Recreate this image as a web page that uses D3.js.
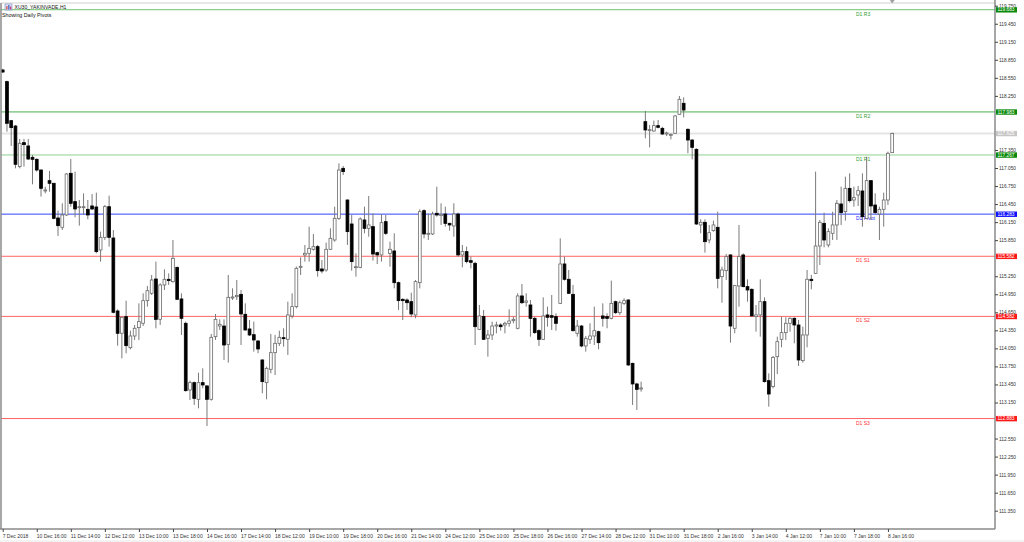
<!DOCTYPE html>
<html><head><meta charset="utf-8">
<script src="https://cdn.jsdelivr.net/npm/d3@7"></script>
<style>
html,body{margin:0;padding:0;background:#fff;}
svg{display:block;font-family:"Liberation Sans",Arial,sans-serif;}
</style></head>
<body><svg id="chart" width="1024" height="542"></svg>
<script>
const title = "XU30_YAKINVADE,H1";
const subtitle = "Showing Daily Pivots";

const opens = [118.681,118.487,117.838,117.749,117.073,117.472,117.417,117.228,117.195,117.017,
116.674,116.840,116.796,116.219,116.064,116.269,116.962,116.491,116.402,116.402,
116.363,116.419,116.402,115.687,115.897,116.407,115.886,114.672,114.301,114.578,
114.062,114.256,114.395,114.467,114.844,114.966,115.204,114.533,115.105,115.199,
115.160,115.398,114.872,114.467,113.358,113.480,113.203,113.480,113.425,113.203,
114.245,114.422,114.422,114.117,114.888,114.910,114.949,114.617,114.373,114.278,
114.173,113.857,113.480,113.702,113.979,114.134,114.228,114.201,114.589,114.744,
115.398,115.604,115.631,115.698,115.742,115.371,115.354,115.698,115.853,116.213,
117.045,116.518,116.119,115.398,115.398,116.186,116.047,116.075,115.642,115.604,
116.158,115.631,115.670,115.143,114.866,114.855,114.827,114.606,115.143,116.341,
115.947,115.953,116.297,116.258,116.285,116.130,116.086,116.285,115.604,115.659,
115.509,115.465,114.367,114.578,114.217,114.273,114.422,114.439,114.439,114.467,
114.511,114.384,114.922,114.816,114.772,114.550,114.345,114.201,114.606,114.594,
114.578,114.799,115.454,115.199,114.949,114.301,114.422,114.090,114.201,114.256,
114.328,114.589,114.578,114.550,114.827,114.644,114.799,114.855,113.801,113.458,
113.375,117.821,117.677,117.666,117.755,117.710,117.616,117.594,117.627,117.943,
118.126,117.694,117.516,117.361,116.103,116.147,115.853,116.008,116.064,115.243,
115.343,115.604,114.384,115.088,115.604,115.077,115.032,114.578,114.606,114.827,
113.513,113.414,113.912,114.201,114.312,114.467,114.550,114.439,113.846,114.273,
115.199,115.298,115.753,116.130,115.770,115.964,116.103,116.452,116.324,116.712,
116.518,116.601,116.668,116.213,116.840,116.435,116.285,116.363,116.518,117.306];

const highs = [118.700,118.503,117.849,117.766,117.533,117.533,117.533,117.267,117.211,117.028,
116.740,117.001,116.800,116.341,116.463,116.962,117.200,116.990,116.518,116.629,
116.518,116.618,116.640,115.992,116.435,116.590,116.019,114.700,114.578,114.844,
114.345,114.439,114.799,114.966,115.088,115.271,115.493,115.132,115.365,115.298,
115.853,115.409,114.966,114.495,113.513,113.497,113.646,113.718,113.441,114.290,
114.622,114.533,114.533,115.271,115.049,115.188,115.021,114.799,114.522,114.495,
114.190,113.868,113.746,114.290,114.273,114.345,114.384,114.827,114.966,115.409,
115.565,115.770,116.075,115.953,115.770,115.520,115.809,116.047,116.407,117.128,
117.084,116.529,116.269,115.631,116.230,116.407,116.585,116.297,115.659,116.285,
116.269,115.825,115.964,115.160,114.883,114.883,114.977,115.188,116.363,116.363,
116.297,116.324,116.740,116.463,116.407,116.141,116.463,116.308,115.770,115.742,
115.576,115.493,114.772,114.689,114.356,114.495,114.495,114.467,114.495,114.700,
114.578,114.966,115.121,114.966,114.855,114.578,114.367,114.899,114.744,114.938,
114.633,115.881,115.576,115.354,115.105,114.522,114.439,114.256,114.467,114.744,
114.345,114.799,114.633,115.177,114.844,114.844,114.883,114.866,113.813,113.480,
113.497,117.999,117.766,117.838,117.849,117.738,117.655,117.627,117.932,118.248,
118.226,117.710,117.527,117.378,116.197,116.197,116.103,116.175,116.324,115.409,
115.620,115.615,115.105,116.103,115.631,115.199,115.049,114.772,115.199,114.899,
113.635,113.924,114.245,114.578,114.567,114.567,114.567,114.522,114.411,115.354,
115.271,116.990,116.186,116.308,116.047,116.324,116.518,116.740,116.906,116.962,
116.740,116.751,116.962,117.239,116.851,116.629,116.407,116.640,117.322,117.638];

const lows = [118.630,117.655,117.417,117.045,117.045,117.073,117.184,116.779,116.990,116.574,
116.629,116.657,116.197,115.920,116.019,116.252,116.407,116.230,116.091,116.269,
116.197,116.352,115.631,115.493,115.853,115.742,114.633,114.095,113.885,113.968,
114.034,114.190,114.190,114.422,114.744,114.938,114.384,114.439,115.021,115.105,
115.143,114.855,114.273,113.330,113.192,113.109,113.053,113.386,112.759,113.181,
114.190,114.356,113.857,113.813,114.855,114.855,114.106,114.345,114.256,113.996,
113.968,113.303,113.203,113.635,113.607,114.090,114.079,113.940,114.550,114.716,
115.271,115.493,115.493,115.676,115.243,115.298,115.326,115.687,115.825,116.186,
116.934,115.770,115.343,115.243,115.382,115.964,115.908,115.509,115.454,115.493,
115.936,115.409,115.049,114.689,114.522,114.689,114.567,114.550,115.049,115.881,
115.853,115.936,116.241,116.103,116.075,116.008,115.908,115.576,115.398,115.465,
115.382,114.106,114.356,114.190,113.912,114.190,114.301,114.345,114.301,114.411,
114.467,114.367,114.788,114.744,114.245,114.290,114.090,114.190,114.411,114.356,
114.345,114.788,115.177,114.955,114.328,114.245,114.068,113.996,114.123,114.106,
114.034,114.411,114.384,114.533,114.622,114.606,114.772,113.757,113.109,113.025,
113.330,117.544,117.394,117.655,117.710,117.599,117.583,117.527,117.616,117.932,
117.893,117.295,117.195,116.103,115.964,115.642,115.798,115.992,115.049,114.810,
115.188,114.145,114.301,114.744,115.066,114.827,114.578,114.328,114.245,113.480,
113.081,113.386,113.624,114.068,114.190,114.328,114.134,113.757,113.813,114.068,
115.032,115.287,115.437,115.731,115.731,115.853,115.853,116.103,116.175,116.474,
116.407,116.419,116.075,116.197,116.186,116.285,115.853,116.075,116.435,117.306];

const closes = [118.647,117.794,117.722,117.112,117.461,117.439,117.200,117.195,117.017,116.712,
116.685,116.796,116.213,116.091,116.269,116.951,116.463,116.369,116.407,116.407,
116.269,116.369,115.659,115.897,116.407,115.897,114.650,114.301,114.567,114.095,
114.256,114.384,114.495,114.844,115.010,115.188,114.533,115.105,115.199,115.177,
115.548,114.866,114.550,113.347,113.480,113.219,113.480,113.441,113.203,114.234,
114.533,114.450,114.106,114.899,114.905,114.932,114.622,114.356,114.273,114.190,
114.040,113.497,113.718,113.979,114.134,114.234,114.212,114.606,114.744,115.382,
115.415,115.631,115.714,115.742,115.343,115.337,115.698,115.881,116.213,117.017,
116.990,115.992,115.493,115.409,116.202,116.047,116.103,115.620,115.604,116.141,
115.964,115.698,115.143,114.844,114.844,114.810,114.622,115.160,116.324,115.953,
115.964,116.285,116.269,116.280,116.130,116.103,116.285,115.604,115.659,115.493,
115.482,114.411,114.589,114.201,114.273,114.422,114.439,114.411,114.467,114.506,
114.533,114.922,114.810,114.838,114.550,114.312,114.201,114.589,114.567,114.567,
114.467,115.454,115.199,114.966,114.345,114.422,114.090,114.217,114.256,114.345,
114.145,114.550,114.550,114.799,114.644,114.810,114.844,113.774,113.458,113.369,
113.391,117.683,117.688,117.755,117.727,117.616,117.633,117.610,117.916,118.193,
118.015,117.516,117.394,116.119,116.147,115.825,115.975,116.103,115.215,115.354,
115.576,114.422,115.094,115.576,115.077,115.021,114.589,114.606,114.827,113.497,
113.291,113.901,114.162,114.312,114.467,114.550,114.439,113.857,114.273,115.199,
115.177,115.753,116.147,115.853,115.992,116.103,116.463,116.308,116.712,116.507,
116.557,116.674,116.241,116.840,116.419,116.308,116.363,116.518,117.295,117.625];

const xLabels = ["7 Dec 2018","10 Dec 16:00","11 Dec 14:00","12 Dec 12:00","13 Dec 10:00","13 Dec 18:00",
"14 Dec 16:00","17 Dec 14:00","18 Dec 12:00","19 Dec 10:00","19 Dec 18:00","20 Dec 16:00","21 Dec 14:00",
"24 Dec 12:00","25 Dec 10:00","25 Dec 18:00","26 Dec 16:00","27 Dec 14:00","28 Dec 12:00","31 Dec 10:00",
"31 Dec 18:00","2 Jan 16:00","3 Jan 14:00","4 Jan 12:00","7 Jan 10:00","7 Jan 18:00","8 Jan 16:00"];
const xLabelEvery = 8;

const yTicks = [119.75,119.45,119.15,118.85,118.55,118.25,117.35,117.05,116.75,116.45,116.15,115.85,
115.25,114.95,114.65,114.35,114.05,113.75,113.45,113.15,112.55,112.25,111.95,111.65,111.35];

const levelNames = ["D1 R3","D1 R2","D1 R1","D1 Pivot","D1 S1","D1 S2","D1 S3"];
const levelValues = [119.683,117.983,117.267,116.283,115.582,114.582,112.883];
const levelKinds = ["R","R","R","P","S","S","S"];
const lastPrice = 117.625;

// ---------- drawing ----------
const svg = d3.select("#chart");
const W = 1024, H = 542;
const plotRight = 995, plotBottom = 529, plotTop = 3, plotLeft = 1;
const n = closes.length;

const x = d3.scaleLinear().domain([0, n - 1]).range([2.7, 2.7 + 4.256 * (n - 1)]);
const y = d3.scaleLinear().domain([111.35, 119.75]).range([510.7, 5.7]);

svg.append("rect").attr("width", W).attr("height", H).attr("fill", "#fff");

const lineColorAlt = ["#6cc26c", "#4caf50", "#8fd18f", "#3344ff", "#ff6464", "#ff6464", "#ff6464"];
const textColor = {R: "#2e9e2e", P: "#1a1aff", S: "#ff3030"};
const boxColor = {R: "#0a8a0a", P: "#1010ff", S: "#ff1a1a"};

const plot = svg.append("g");

// last price line
plot.append("line").attr("x1", plotLeft).attr("x2", plotRight)
  .attr("y1", y(lastPrice)).attr("y2", y(lastPrice))
  .attr("stroke", "#e4e4e4").attr("stroke-width", 2);

// pivot lines
plot.selectAll("line.lvl").data(levelValues).join("line").attr("class", "lvl")
  .attr("x1", plotLeft).attr("x2", plotRight)
  .attr("y1", d => y(d)).attr("y2", d => y(d))
  .attr("stroke", (d, i) => lineColorAlt[i]).attr("stroke-width", 1);

plot.selectAll("text.lvlname").data(levelValues).join("text").attr("class", "lvlname")
  .attr("x", 856).attr("y", d => y(d) + 6)
  .attr("font-size", 5).attr("fill", (d, i) => textColor[levelKinds[i]])
  .text((d, i) => levelNames[i]);

// candles
const candles = plot.append("g");
const idx = d3.range(n);
candles.selectAll("line.wick").data(idx).join("line").attr("class", "wick")
  .attr("x1", i => x(i)).attr("x2", i => x(i))
  .attr("y1", i => y(highs[i])).attr("y2", i => y(lows[i]))
  .attr("stroke", "#7a7a7a").attr("stroke-width", 1);

const bw = 2.8;
candles.selectAll("rect.body").data(idx).join("rect").attr("class", "body")
  .attr("x", i => x(i) - bw / 2)
  .attr("y", i => y(Math.max(opens[i], closes[i])))
  .attr("width", bw)
  .attr("height", i => Math.max(1, Math.abs(y(opens[i]) - y(closes[i]))))
  .attr("fill", i => closes[i] >= opens[i] ? "#fff" : "#000")
  .attr("stroke", i => closes[i] >= opens[i] ? "#6a6a6a" : "#000")
  .attr("stroke-width", 0.8);

// frame
svg.append("line").attr("x1", plotLeft).attr("x2", plotRight).attr("y1", plotTop).attr("y2", plotTop)
  .attr("stroke", "#d0d0d0").attr("stroke-width", 1);
svg.append("line").attr("x1", 1).attr("x2", 1).attr("y1", plotTop).attr("y2", plotBottom)
  .attr("stroke", "#8a8a8a").attr("stroke-width", 1.5);
svg.append("line").attr("x1", plotRight).attr("x2", plotRight).attr("y1", 0).attr("y2", plotBottom)
  .attr("stroke", "#8a8a8a").attr("stroke-width", 1.5);
svg.append("line").attr("x1", 0).attr("x2", plotRight).attr("y1", plotBottom).attr("y2", plotBottom)
  .attr("stroke", "#8a8a8a").attr("stroke-width", 1.5);
svg.append("line").attr("x1", 0).attr("x2", W).attr("y1", 541).attr("y2", 541)
  .attr("stroke", "#e6e6e6").attr("stroke-width", 1);

// shift marker
svg.append("path").attr("d", `M${x(n - 1) - 2.5},0 L${x(n - 1) + 2.5},0 L${x(n - 1)},3.5 Z`).attr("fill", "#a0a0a0");

// right axis
const yAxis = d3.axisRight(y).tickValues(yTicks).tickSize(3).tickPadding(1)
  .tickFormat(d3.format(".3f"));
const ya = svg.append("g").attr("transform", `translate(${plotRight},0)`).call(yAxis);
ya.select(".domain").remove();
ya.selectAll("line").attr("stroke", "#444");
ya.selectAll("text").attr("font-size", 4.8).attr("fill", "#333").attr("font-family", "Liberation Sans, Arial, sans-serif")
  .attr("dy", "0.3em");

// level boxes on axis
const boxes = svg.append("g");
const allLevels = levelValues.map((v, i) => ({v, c: boxColor[levelKinds[i]]}));
allLevels.push({v: lastPrice, c: "#c6c6c6"});
boxes.selectAll("rect").data(allLevels).join("rect")
  .attr("x", 996).attr("y", d => y(d.v) - 2.6).attr("width", 21).attr("height", 5.4)
  .attr("fill", d => d.c);
boxes.selectAll("text").data(allLevels).join("text")
  .attr("x", 997.5).attr("y", d => y(d.v) + 1.7)
  .attr("font-size", 4.8).attr("fill", "#fff")
  .text(d => d.v.toFixed(3));

// bottom axis
const tickIdx = xLabels.map((d, i) => i * xLabelEvery);
const xAxis = d3.axisBottom(x).tickValues(tickIdx).tickSize(3).tickPadding(2)
  .tickFormat((d, i) => xLabels[i]);
const xa = svg.append("g").attr("transform", `translate(0,${plotBottom})`).call(xAxis);
xa.select(".domain").remove();
xa.selectAll("line").attr("stroke", "#444");
xa.selectAll("text").attr("font-size", 5).attr("fill", "#333").attr("text-anchor", "start")
  .attr("dx", -0.5).attr("font-family", "Liberation Sans, Arial, sans-serif");

// title
const ic = svg.append("g").attr("transform", "translate(5,4)");
ic.append("rect").attr("width", 7).attr("height", 6).attr("fill", "#dfe6f5").attr("stroke", "#7a86b8").attr("stroke-width", 0.6);
ic.append("rect").attr("x", 1.2).attr("y", 2).attr("width", 1.3).attr("height", 3.5).attr("fill", "#d9534f");
ic.append("rect").attr("x", 3.2).attr("y", 1).attr("width", 1.3).attr("height", 4.5).attr("fill", "#4060c0");
ic.append("rect").attr("x", 5.0).attr("y", 2.5).attr("width", 1.3).attr("height", 3).attr("fill", "#c04090");
svg.append("text").attr("x", 14.5).attr("y", 9.2).attr("font-size", 5.1).attr("fill", "#111").text(title);
svg.append("text").attr("x", 2).attr("y", 17).attr("font-size", 5.3).attr("fill", "#111").text(subtitle);
</script></body></html>
